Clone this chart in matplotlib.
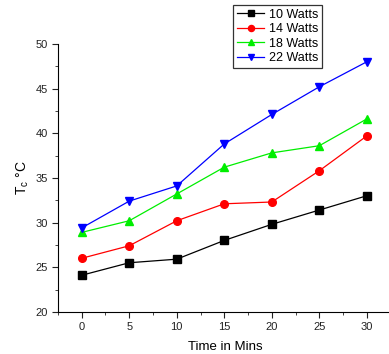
import matplotlib
matplotlib.use("Agg")
import matplotlib.pyplot as plt
from matplotlib.ticker import MultipleLocator

plt.rcParams['font.family'] = ['Liberation Sans', 'DejaVu Sans']

# time in minutes
time_min = [0, 5, 10, 15, 20, 25, 30]
t_10w = [24.1, 25.5, 25.9, 28.0, 29.8, 31.4, 33.0]
t_14w = [26.0, 27.4, 30.2, 32.1, 32.3, 35.8, 39.7]
t_18w = [28.9, 30.2, 33.2, 36.2, 37.8, 38.6, 41.6]
t_22w = [29.4, 32.4, 34.1, 38.8, 42.1, 45.2, 48.0]

series = [
    ("10 Watts", t_10w, "black", "s"),
    ("14 Watts", t_14w, "red", "o"),
    ("18 Watts", t_18w, "#00ee00", "^"),
    ("22 Watts", t_22w, "blue", "v"),
]

fig = plt.figure(figsize=(3.89, 3.54), dpi=100)
ax = fig.add_axes([0.149, 0.119, 0.86, 0.757])

for label, vals, col, mk in series:
    ax.plot(time_min, vals, color=col, marker=mk, markersize=5.5, linewidth=0.9, label=label)

ax.set_xlim(-2.5, 32.7)
ax.set_ylim(20, 50)
ax.xaxis.set_major_locator(MultipleLocator(5))
ax.xaxis.set_minor_locator(MultipleLocator(2.5))
ax.yaxis.set_major_locator(MultipleLocator(5))
ax.yaxis.set_minor_locator(MultipleLocator(2.5))
ax.tick_params(which='both', direction='out', labelsize=8, colors='#222222')
ax.tick_params(which='major', length=4)
ax.tick_params(which='minor', length=2.5)
ax.spines['top'].set_visible(False)
ax.spines['right'].set_visible(False)

ax.set_xlabel("Time in Mins", fontsize=9.5, labelpad=6)
ax.set_ylabel(r"T$_\mathregular{c}$ °C", fontsize=10, labelpad=3)

leg = fig.legend(loc='upper left', bbox_to_anchor=(233 / 389, 1 - 5 / 354), fontsize=9,
                 frameon=True, fancybox=False, edgecolor='black', handlelength=2.2,
                 handletextpad=0.4, borderpad=0.3, labelspacing=0.2, borderaxespad=0,
                 markerscale=0.8)
leg.get_frame().set_linewidth(0.9)

fig.savefig("out.png", dpi=100)
